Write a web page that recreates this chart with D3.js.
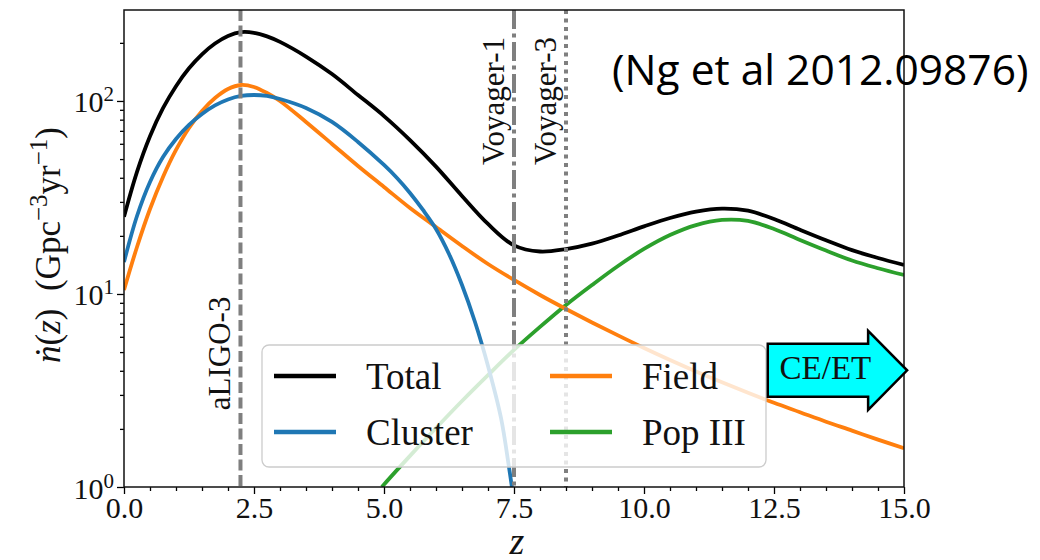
<!DOCTYPE html>
<html>
<head>
<meta charset="utf-8">
<script src="https://cdn.jsdelivr.net/npm/d3@7"></script>
<style>
  body { margin: 0; background: #fff; }
  svg { display: block; }
</style>
</head>
<body>
<svg id="chart" width="1040" height="560"></svg>
<script>
// Merger rate density per redshift, Gpc^-3 yr^-1
const redshift = [0, 0.25, 0.5, 0.75, 1, 1.25, 1.5, 1.75, 2, 2.25, 2.5, 2.75, 3, 3.5, 4, 4.5, 5, 5.5, 6, 6.5, 7, 7.5, 8, 8.5, 9, 9.5, 10, 10.5, 11, 11.5, 12, 12.5, 13, 13.5, 14, 14.5, 15];
const totalRate = [25.1, 42.9, 65.6, 91.7, 119.3, 147.6, 174.4, 198.4, 217.2, 227.2, 225.6, 216.2, 202.4, 169.9, 137.8, 107.4, 83.5, 62.7, 45.7, 32.2, 23.05, 17.85, 16.6, 17.1, 18.25, 20.1, 22.4, 24.75, 26.7, 27.7, 27.0, 24.45, 21.5, 18.97, 16.87, 15.36, 14.13];
const fieldRate = [10.49, 17.52, 27.56, 40.39, 55.73, 72.46, 88.78, 103.6, 115.4, 121.0, 118.2, 110.0, 100.0, 77.85, 59.9, 46.05, 35.85, 27.9, 22.24, 17.73, 14.30, 11.82, 9.88, 8.36, 7.12, 6.10, 5.25, 4.55, 3.97, 3.49, 3.08, 2.73, 2.44, 2.18, 1.96, 1.76, 1.59];

const clusterZ = [0, 0.25, 0.5, 0.75, 1, 1.25, 1.5, 1.75, 2, 2.25, 2.5, 2.75, 3, 3.5, 4, 4.5, 5, 5.25, 5.5, 5.75, 6, 6.25, 6.5, 6.75, 7, 7.25, 7.4, 7.46];
const clusterRate = [14.65, 25.36, 38.05, 51.27, 63.56, 75.1, 85.6, 94.8, 101.8, 106.2, 107.4, 106.2, 102.4, 92.0, 77.85, 61.33, 46.6, 39.9, 33.38, 27.24, 21.72, 16.12, 11.13, 7.16, 4.24, 2.28, 1.285, 1.0];

const popIIIZ = [4.96, 5, 5.5, 6, 6.5, 7, 7.5, 8, 8.5, 9, 9.5, 10, 10.5, 11, 11.5, 12, 12.5, 13, 13.5, 14, 14.5, 15];
const popIIIRate = [1.0, 1.03, 1.45, 2.02, 2.79, 3.80, 5.13, 6.75, 8.77, 11.13, 13.97, 17.11, 20.2, 22.75, 24.18, 23.89, 21.72, 19.05, 16.79, 14.91, 13.6, 12.54];

const seriesNames = ["Total", "Cluster", "Field", "Pop III"];

// Detector reach (horizon redshift)
const detectorNames = ["aLIGO-3", "Voyager-1", "Voyager-3"];
const detectorZ = [2.24, 7.5, 8.5];

const xTicks = [0, 2.5, 5, 7.5, 10, 12.5, 15];
const xMinorTicks = d3.range(0, 15.01, 0.5).filter(v => Math.abs(v / 2.5 - Math.round(v / 2.5)) > 1e-6);
const yTicks = [1, 10, 100];
const yTickExponents = ["0", "1", "2"];
const yMinorTicks = [2, 3, 4, 5, 6, 7, 8, 9, 20, 30, 40, 50, 60, 70, 80, 90, 200];

// ---- styles ----
const colors = { "Total": "#000000", "Cluster": "#1f77b4", "Field": "#ff7f0e", "Pop III": "#2ca02c" };
const detectorDash = { "aLIGO-3": "11,4.5", "Voyager-1": "19,4.5,4,4.5", "Voyager-3": "4,4.5" };
const serif = "'Liberation Serif', 'Times New Roman', serif";

const svg = d3.select("#chart");
const plot = { left: 124, right: 904, top: 10, bottom: 487 };

const x = d3.scaleLinear().domain([0, 15]).range([plot.left, plot.right]);
const y = d3.scaleLog().domain([1, 296]).range([plot.bottom, plot.top]);

svg.append("defs").append("clipPath").attr("id", "plot-clip")
  .append("rect")
  .attr("x", plot.left).attr("y", plot.top)
  .attr("width", plot.right - plot.left).attr("height", plot.bottom - plot.top);

const line = d3.line()
  .x(d => x(d[0]))
  .y(d => y(d[1]))
  .curve(d3.curveCatmullRom.alpha(0.5));

const seriesData = {
  "Total": redshift.map((z, i) => [z, totalRate[i]]),
  "Cluster": clusterZ.map((z, i) => [z, clusterRate[i]]),
  "Field": redshift.map((z, i) => [z, fieldRate[i]]),
  "Pop III": popIIIZ.map((z, i) => [z, popIIIRate[i]])
};

const curves = svg.append("g").attr("clip-path", "url(#plot-clip)");
["Pop III", "Field", "Cluster", "Total"].forEach(name => {
  curves.append("path")
    .datum(seriesData[name])
    .attr("d", line)
    .attr("fill", "none")
    .attr("stroke", colors[name])
    .attr("stroke-width", 3.8)
    .attr("stroke-linejoin", "round");
});

// Detector horizon lines with rotated names
const detectors = svg.append("g");
detectorNames.forEach((name, i) => {
  const xv = x(detectorZ[i]);
  detectors.append("line")
    .attr("x1", xv).attr("x2", xv)
    .attr("y1", plot.top).attr("y2", plot.bottom)
    .attr("stroke", "#7f7f7f")
    .attr("stroke-width", 4)
    .attr("stroke-dasharray", detectorDash[name]);
});
const labelStart = { "aLIGO-3": y(2.5), "Voyager-1": y(46.6), "Voyager-3": y(46.6) };
detectorNames.forEach((name, i) => {
  const xv = x(detectorZ[i]) - 10;
  detectors.append("text")
    .attr("transform", `translate(${xv},${labelStart[name]}) rotate(-90)`)
    .attr("font-family", serif)
    .attr("font-size", 31)
    .attr("fill", "#111")
    .text(name);
});

// Axes
const xAxis = svg.append("g").attr("transform", `translate(0,${plot.bottom})`)
  .call(d3.axisBottom(x).tickValues(xTicks).tickSize(7).tickSizeOuter(0).tickFormat(d3.format(".1f")));
const xMinor = svg.append("g").attr("transform", `translate(0,${plot.bottom})`)
  .call(d3.axisBottom(x).tickValues(xMinorTicks).tickSize(4).tickSizeOuter(0).tickFormat(""));
const yAxis = svg.append("g").attr("transform", `translate(${plot.left},0)`)
  .call(d3.axisLeft(y).tickValues(yTicks).tickSize(7).tickSizeOuter(0).tickFormat(""));
const yMinor = svg.append("g").attr("transform", `translate(${plot.left},0)`)
  .call(d3.axisLeft(y).tickValues(yMinorTicks).tickSize(4).tickSizeOuter(0).tickFormat(""));

[xAxis, xMinor, yAxis, yMinor].forEach(g => {
  g.select(".domain").remove();
  g.selectAll(".tick line").attr("stroke", "#000").attr("stroke-width", 1.3);
});
xAxis.selectAll(".tick text")
  .attr("font-family", serif).attr("font-size", 30).attr("fill", "#111");

yAxis.selectAll(".tick").each(function(d, i) {
  const t = d3.select(this).append("text")
    .attr("x", -10).attr("y", 11)
    .attr("text-anchor", "end")
    .attr("font-family", serif).attr("font-size", 30).attr("fill", "#111");
  t.append("tspan").text("10");
  t.append("tspan").attr("dy", -11).attr("font-size", 21).text(yTickExponents[i]);
});

// Frame
svg.append("rect")
  .attr("x", plot.left).attr("y", plot.top)
  .attr("width", plot.right - plot.left).attr("height", plot.bottom - plot.top)
  .attr("fill", "none").attr("stroke", "#111").attr("stroke-width", 1.5);

// Axis titles
svg.append("text")
  .attr("x", (plot.left + plot.right) / 2 + 3).attr("y", 554)
  .attr("text-anchor", "middle")
  .attr("font-family", serif).attr("font-size", 38).attr("font-style", "italic")
  .attr("fill", "#111")
  .text("z");

const yTitle = svg.append("text")
  .attr("transform", "translate(60,245) rotate(-90)")
  .attr("text-anchor", "middle")
  .attr("font-family", serif).attr("font-size", 35).attr("fill", "#111");
yTitle.append("tspan").attr("font-style", "italic").text("ṅ");
yTitle.append("tspan").text("(");
yTitle.append("tspan").attr("font-style", "italic").text("z");
yTitle.append("tspan").text(")\u2002(Gpc");
yTitle.append("tspan").attr("dy", -13).attr("font-size", 25).text("−3");
yTitle.append("tspan").attr("dy", 13).text("yr");
yTitle.append("tspan").attr("dy", -13).attr("font-size", 25).text("−1");
yTitle.append("tspan").attr("dy", 13).text(")");

// Legend (semi-transparent frame, two columns)
const legend = svg.append("g");
legend.append("rect")
  .attr("x", 262).attr("y", 345).attr("width", 504).attr("height", 122)
  .attr("rx", 7)
  .attr("fill", "#fff").attr("fill-opacity", 0.8)
  .attr("stroke", "#cccccc").attr("stroke-width", 1.3);
seriesNames.forEach((name, i) => {
  const col = Math.floor(i / 2), row = i % 2;
  const lx = 274 + col * 276, ly = 376 + row * 56;
  legend.append("line")
    .attr("x1", lx).attr("x2", lx + 62)
    .attr("y1", ly).attr("y2", ly)
    .attr("stroke", colors[name]).attr("stroke-width", 4.5);
  legend.append("text")
    .attr("x", lx + 92).attr("y", ly + 13)
    .attr("font-family", serif).attr("font-size", 37).attr("fill", "#111")
    .text(name);
});

// Next-generation detectors arrow
const arrowZ0 = 12.38, arrowZ1 = 15.06, arrowRate = 4.02;
const ax0 = x(arrowZ0), ax1 = x(arrowZ1), ay = y(arrowRate);
const headLen = 39, bodyHalf = 26.5, headHalf = 39.5;
const arrowPts = [
  [ax0, ay - bodyHalf], [ax1 - headLen, ay - bodyHalf], [ax1 - headLen, ay - headHalf],
  [ax1, ay], [ax1 - headLen, ay + headHalf], [ax1 - headLen, ay + bodyHalf], [ax0, ay + bodyHalf]
];
svg.append("polygon")
  .attr("points", arrowPts.map(p => p.join(",")).join(" "))
  .attr("fill", "#00ffff").attr("stroke", "#000").attr("stroke-width", 2.5)
  .attr("stroke-linejoin", "miter");
svg.append("text")
  .attr("x", (ax0 + ax1) / 2 - 12).attr("y", ay + 8.5)
  .attr("text-anchor", "middle")
  .attr("font-family", serif).attr("font-size", 33).attr("fill", "#111")
  .text("CE/ET");

// Reference note
svg.append("text")
  .attr("x", 612).attr("y", 85)
  .attr("font-family", "'Open Sans', sans-serif").attr("font-size", 42.5).attr("fill", "#000")
  .text("(Ng et al 2012.09876)");
</script>
</body>
</html>
